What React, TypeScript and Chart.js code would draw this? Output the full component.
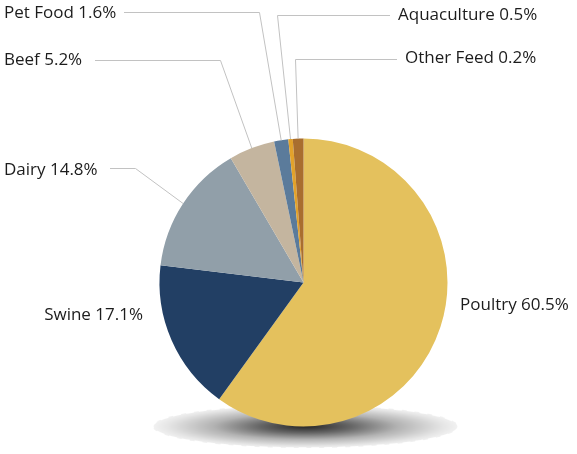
import React, { useEffect, useRef } from "react";
import { Chart, registerables } from "chart.js";

Chart.register(...registerables);

const categories = ["Poultry", "Swine", "Dairy", "Beef", "Pet Food", "Aquaculture", "Other Feed"];
const values = [60.5, 17.1, 14.8, 5.2, 1.6, 0.5, 1.2];
const shareLabels = ["60.5%", "17.1%", "14.8%", "5.2%", "1.6%", "0.5%", "0.2%"];
const sliceColors = ["#E4C15D", "#223F64", "#919FA9", "#C4B59F", "#5B7B9B", "#E2A22B", "#A96E2F"];

// label placement (text anchor, alignment, leader-line elbow)
const labelLayout = [
  { x: 460, y: 305, align: "left", line: null },
  { x: 143, y: 315, align: "right", line: null },
  { x: 4, y: 170, align: "left", line: [[110, 168], [135, 168]] },
  { x: 4, y: 60, align: "left", line: [[95, 60], [220, 60]] },
  { x: 4, y: 13, align: "left", line: [[124, 12], [259, 12]] },
  { x: 398, y: 15, align: "left", line: [[390, 15], [277, 15]] },
  { x: 405, y: 58, align: "left", line: [[397, 59], [295, 59]] },
];

const FONT = '17px "Open Sans", sans-serif';

const shadowPlugin = {
  id: "pieShadow",
  beforeDatasetsDraw(chart: any) {
    const meta = chart.getDatasetMeta(0);
    const arc = meta.data[0];
    if (!arc) return;
    const { x, y, outerRadius } = arc.getProps(["x", "y", "outerRadius"], true);
    const ctx = chart.ctx;
    const cx = x + 2;
    const cy = y + outerRadius;
    const rx = outerRadius * 1.06;
    const ry = outerRadius * 0.15;
    ctx.save();
    ctx.translate(cx, cy);
    ctx.scale(1, ry / rx);
    const g = ctx.createRadialGradient(0, 0, 0, 0, 0, rx);
    g.addColorStop(0, "rgba(0,0,0,0.85)");
    g.addColorStop(0.3, "rgba(0,0,0,0.6)");
    g.addColorStop(0.6, "rgba(0,0,0,0.3)");
    g.addColorStop(0.9, "rgba(0,0,0,0.1)");
    g.addColorStop(1, "rgba(0,0,0,0.05)");
    ctx.beginPath();
    ctx.arc(0, 0, rx, 0, Math.PI * 2);
    ctx.fillStyle = g;
    ctx.fill();
    ctx.restore();
    ctx.save();
    ctx.beginPath();
    ctx.ellipse(cx, cy, rx, ry, 0, 0, Math.PI * 2);
    ctx.setLineDash([8, 5]);
    ctx.strokeStyle = "rgba(255,255,255,0.9)";
    ctx.lineWidth = 1.5;
    ctx.stroke();
    ctx.restore();
  },
};

const labelPlugin = {
  id: "pieLabels",
  afterDatasetsDraw(chart: any) {
    const ctx = chart.ctx;
    const meta = chart.getDatasetMeta(0);
    ctx.save();
    ctx.font = FONT;
    ctx.textBaseline = "middle";
    ctx.fillStyle = "#1c1c1c";
    meta.data.forEach((arc: any, i: number) => {
      const lay = labelLayout[i];
      const p = arc.getProps(["x", "y", "startAngle", "endAngle", "outerRadius"], true);
      const mid = (p.startAngle + p.endAngle) / 2;
      const ex = p.x + Math.cos(mid) * p.outerRadius;
      const ey = p.y + Math.sin(mid) * p.outerRadius;
      if (lay.line) {
        ctx.beginPath();
        ctx.strokeStyle = "#c2c2c2";
        ctx.lineWidth = 1;
        ctx.moveTo(lay.line[0][0], lay.line[0][1] + 0.5);
        ctx.lineTo(lay.line[1][0] + 0.5, lay.line[1][1] + 0.5);
        ctx.lineTo(ex, ey);
        ctx.stroke();
      }
      ctx.textAlign = lay.align;
      ctx.fillText(`${categories[i]} ${shareLabels[i]}`, lay.x, lay.y);
    });
    ctx.restore();
  },
};

export default function App() {
  const ref = useRef<HTMLCanvasElement | null>(null);
  useEffect(() => {
    if (!ref.current) return;
    const chart = new Chart(ref.current, {
      type: "pie",
      data: {
        labels: categories,
        datasets: [
          {
            data: values,
            backgroundColor: sliceColors,
            borderWidth: 0,
          },
        ],
      },
      options: {
        responsive: false,
        animation: false,
        layout: { padding: { left: 159.5, right: 129.5, top: 138.5, bottom: 27.5 } },
        plugins: { legend: { display: false }, tooltip: { enabled: false } },
      },
      plugins: [shadowPlugin, labelPlugin],
    });
    return () => chart.destroy();
  }, []);
  return (
    <div style={{ position: "absolute", left: 0, top: 0, width: 577, height: 454, background: "#fff" }}>
      <canvas ref={ref} width={577} height={454} style={{ display: "block" }} />
    </div>
  );
}
